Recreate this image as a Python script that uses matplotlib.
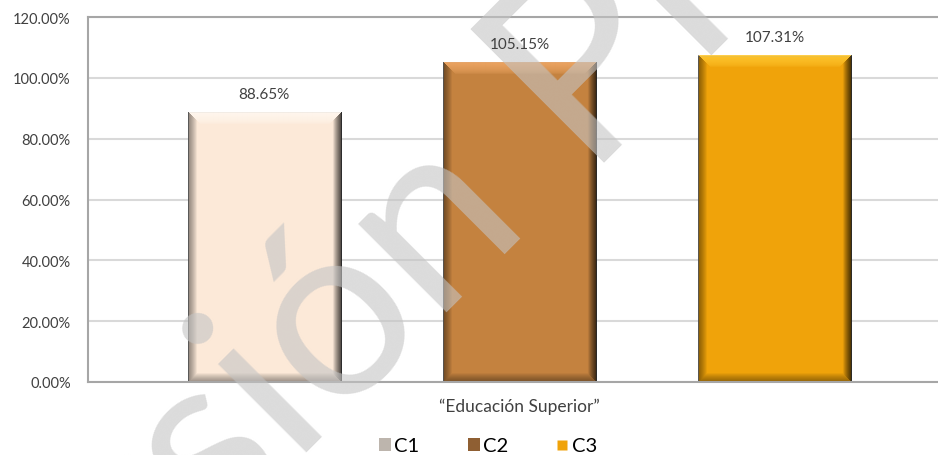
import numpy as np
import matplotlib
matplotlib.use('Agg')
from matplotlib import pyplot as plt
from matplotlib.patches import Patch
from matplotlib.lines import Line2D

# data
categories = ['C1', 'C2', 'C3']
values = [88.65, 105.15, 107.31]
group_label = '\u201cEducación Superior\u201d'
yticks = [0, 20, 40, 60, 80, 100, 120]

face_colors = ['#fce9d8', '#c4823f', '#f0a30a']
top_colors = ['#fff8f0', '#f0a866', '#ffc830']
legend_colors = ['#bdb5ad', '#8f5f33', '#f0a30a']

plt.rcParams['font.family'] = ['Lato', 'DejaVu Sans']

W, H = 938, 456
fig = plt.figure(figsize=(W / 100, H / 100), dpi=100)
ax = fig.add_axes([88 / W, (H - 383) / H, (W - 88) / W, (383 - 18) / H])

x = np.arange(len(categories))
bar_w = 0.6
bars = ax.bar(x, values, width=bar_w, color=face_colors, edgecolor='#8c8c8c',
              linewidth=0.6, zorder=2)

ax.set_ylim(0, 120)
ax.set_xlim(-0.69, 2.64)
ax.set_yticks(yticks)
ax.set_yticklabels(['%.2f%%' % t for t in yticks], fontsize=10.5, color='#404040')
ax.set_xticks([1])
ax.set_xticklabels([group_label], fontsize=12.5, color='#404040')
ax.tick_params(axis='both', length=0)
ax.tick_params(axis='x', pad=11)
ax.tick_params(axis='y', pad=12.5)
ax.grid(axis='y', color='#d9d9d9', linewidth=1.5, zorder=0)
ax.set_axisbelow(True)
for s in ['left', 'bottom', 'top']:
    ax.spines[s].set_color('#a6a6a6')
    ax.spines[s].set_linewidth(1.5)
ax.spines['right'].set_visible(False)

# bevel shading drawn over every bar
fig.canvas.draw()
bev = 9
for b, top_c in zip(bars, top_colors):
    x0, y0 = b.get_x(), b.get_y()
    x1, y1 = x0 + b.get_width(), y0 + b.get_height()
    p0 = ax.transData.transform((x0, y0))
    p1 = ax.transData.transform((x1, y1))
    nw = int(round(p1[0] - p0[0]))
    nh = int(round(p1[1] - p0[1]))
    cols = np.arange(nw) + 0.5
    rows = np.arange(nh) + 0.5
    dl = np.tile(cols, (nh, 1))
    dr = nw - dl
    dt = np.tile(rows[:, None], (1, nw))
    db = nh - dt
    d = np.stack([dl, dr, dt, db])
    nearest = d.argmin(axis=0)
    dmin = d.min(axis=0)
    ramp = np.clip(1 - dmin / bev, 0, 1)
    dark = np.zeros((nh, nw, 4))
    strength = np.array([0.45, 0.75, 0.0, 0.4])
    dark[..., 3] = strength[nearest] * ramp ** 0.8
    ax.imshow(dark, extent=(x0, x1, y0, y1), aspect='auto', zorder=2.1,
              interpolation='bilinear')
    light = np.zeros((nh, nw, 4))
    light[..., :3] = matplotlib.colors.to_rgb(top_c)
    light[..., 3] = np.where(nearest == 2, 0.9 * np.clip(1 - dmin / (bev + 3), 0, 1) ** 0.5, 0)
    ax.imshow(light, extent=(x0, x1, y0, y1), aspect='auto', zorder=2.2,
              interpolation='bilinear')

ax.set_xlim(-0.69, 2.64)
ax.set_ylim(0, 120)

for xi, v in zip(x, values):
    ax.annotate('%.2f%%' % v, (xi, v), xytext=(0, 8), textcoords='offset points',
                ha='center', va='bottom', fontsize=11, color='#404040', zorder=5)

# watermark of the source document
wm = dict(transform=fig.transFigure, rotation=45, rotation_mode='anchor',
          ha='left', va='baseline', color='#c4c4c4', alpha=0.6,
          zorder=4, clip_on=False)
ax.text(-56 / W, (H - 815) / H, 'Versión', fontsize=178, **wm)
ax.text(580 / W, (H - 163) / H, 'Preliminar', fontsize=190, **wm)

handles = [Patch(facecolor=legend_colors[0], edgecolor='none'),
           Patch(facecolor=legend_colors[1], edgecolor='none'),
           Line2D([], [], ls='none', marker='s', markersize=7,
                  markerfacecolor=legend_colors[2], markeredgecolor='none')]
fig.legend(handles, categories, loc='center', bbox_to_anchor=(488 / W, 1 - 447 / H),
           ncol=3, frameon=False, fontsize=14.5, handlelength=0.6, handleheight=0.6,
           handletextpad=0.15, columnspacing=2.4, borderaxespad=0)

fig.savefig('out.png', dpi=100)
